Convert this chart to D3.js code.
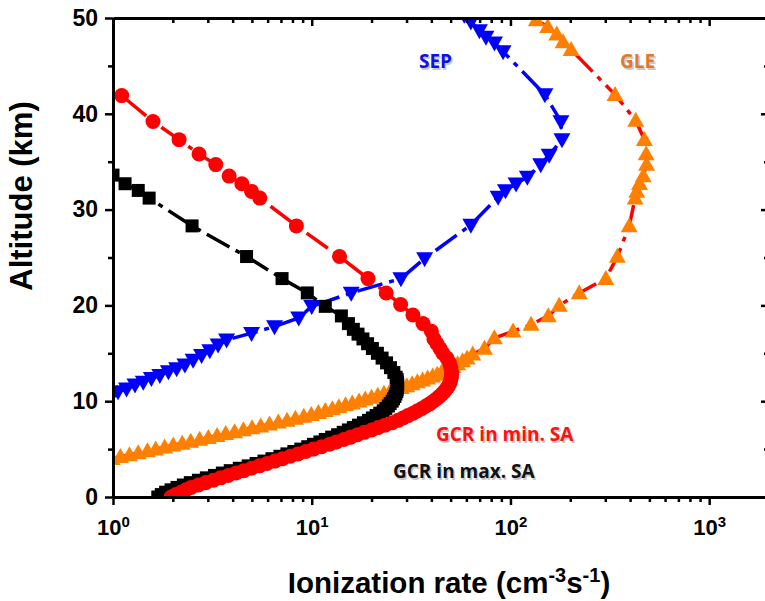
<!DOCTYPE html>
<html><head><meta charset="utf-8">
<script src="https://cdn.jsdelivr.net/npm/d3@7"></script>
<style>body{margin:0;background:#fff} svg{display:block}</style>
</head><body>
<svg id="c" width="765" height="601"></svg>
<script>
// ---------------- data ----------------
const xTickValues = [1, 10, 100, 1000];
const yTickValues = [0, 10, 20, 30, 40, 50];
const yMinorTicks = [5, 15, 25, 35, 45];

// GCR in max. SA (black squares)
const gcrMaxAlt = [0,0.25,0.5,0.75,1,1.25,1.5,1.75,2,2.25,2.5,2.75,3,3.25,3.5,3.75,4,4.25,4.5,4.75,5,5.25,5.5,5.75,6,6.25,6.5,6.75,7,7.25,7.5,7.75,8,8.25,8.5,8.75,9,9.25,9.5,9.75,10,10.25,10.5,10.75,11,11.25,11.5,11.75,12,12.25,12.5,13,13.5,14,14.5,15,15.5,16,16.5,17,17.5,18.1,18.9,19.9,21.3,22.8,25.1,28.3,31.2,32.0,32.7,33.6];
const gcrMaxRate = [1.68,1.75,1.84,1.96,2.1,2.26,2.45,2.69,2.95,3.24,3.55,3.89,4.32,4.79,5.25,5.75,6.31,6.92,7.5,8.13,8.81,9.55,10.2,11.0,11.7,12.6,13.5,14.4,15.3,16.2,17.2,18.2,19.3,20.2,21.1,22.0,22.9,23.6,24.3,24.8,25.4,25.8,26.2,26.5,26.8,26.9,27.0,27.1,27.0,26.9,26.6,25.9,24.9,23.8,22.6,21.4,20.2,19.1,18.1,17.1,16.2,15.3,14.1,11.7,9.5,7.09,4.7,2.5,1.52,1.34,1.15,1.0];

// GCR in min. SA (red circles)
const gcrMinAlt = [0,0.25,0.5,0.75,1,1.25,1.5,1.75,2,2.25,2.5,2.75,3,3.25,3.5,3.75,4,4.25,4.5,4.75,5,5.25,5.5,5.75,6,6.25,6.5,6.75,7,7.25,7.5,7.75,8,8.25,8.5,8.75,9,9.25,9.5,9.75,10,10.25,10.5,10.75,11,11.25,11.5,11.75,12,12.25,12.5,12.75,13,13.5,14,14.5,15,15.5,16,16.5,17.3,18.1,19.0,20.1,21.3,22.8,25.1,28.3,31.2,31.9,32.7,33.5,34.7,35.8,37.3,39.2,41.9,44.6];
const gcrMinRate = [1.96,2.07,2.2,2.33,2.47,2.69,2.93,3.2,3.48,3.8,4.16,4.55,4.98,5.45,5.96,6.52,7.13,7.8,8.53,9.33,10.2,11.2,12.3,13.3,14.5,15.7,17.0,18.4,20.0,21.6,23.4,25.4,27.2,28.8,30.5,32.4,34.1,35.9,37.6,39.4,40.9,42.5,43.9,45.2,46.5,47.5,48.4,49.2,49.8,50.1,50.4,50.5,50.5,50.1,49.3,47.9,45.7,44.2,42.7,41.2,40.0,36.3,32.3,28.0,23.7,19.2,13.8,8.37,5.48,4.98,4.45,3.84,3.29,2.71,2.15,1.59,1.106,0.78];

// SEP (blue down-triangles)
const sepAlt = [10.5,11.0,11.3,11.7,12.0,12.4,12.7,13.1,13.4,13.8,14.3,14.8,15.3,15.9,16.4,17.1,17.8,18.7,19.9,21.3,22.8,24.9,28.4,31.3,32.0,32.7,33.4,34.7,35.7,37.3,39.2,42.0,46.5,47.4,48.0,48.7,49.6,50.3];
const sepRate = [0.98,1.06,1.17,1.29,1.42,1.56,1.72,1.9,2.09,2.3,2.53,2.79,3.07,3.38,3.73,4.98,6.5,8.6,10.0,15.8,28.1,37.0,63.2,86.7,94.4,106.7,121.6,142,156.6,181.6,179.5,149,91.8,83.1,75.3,69.8,63.2,58.5];

// GLE (orange up-triangles)
const gleAlt = [4.0,4.2,4.4,4.6,4.8,5.0,5.2,5.4,5.6,5.8,6.0,6.2,6.4,6.6,6.8,7.0,7.2,7.4,7.6,7.8,8.0,8.2,8.4,8.6,8.8,9.0,9.2,9.4,9.6,9.8,10.0,10.2,10.4,10.6,10.8,11.0,11.2,11.4,11.6,11.8,12.0,12.2,12.4,12.6,12.8,13.0,13.3,13.6,13.9,14.2,14.5,14.9,15.5,16.6,17.3,18.0,18.9,20.0,21.3,22.8,25.1,28.3,31.2,31.9,32.7,33.5,34.7,35.8,37.3,39.3,42.0,46.7,47.5,48.3,49.1,49.8,50.5];
const gleRate = [0.99,1.09,1.21,1.34,1.49,1.64,1.82,2.01,2.23,2.46,2.73,3.02,3.34,3.69,4.09,4.53,5.01,5.54,6.13,6.79,7.51,8.28,9.12,9.95,10.8,11.7,12.7,13.7,14.8,16.0,17.3,18.6,20.0,21.5,23.1,24.7,26.4,28.2,30.1,32.0,34.0,36.1,38.3,40.6,42.8,45.0,48.1,51.3,54.2,57.4,60.5,64.6,74.0,83.0,103,127,155,176,222,302,345,396,424,432,446,466,484,482,472,427,336,202,184,171,154,135,122];

// ---------------- chart ----------------
const svg = d3.select("#c");
const FONT = "'Liberation Sans', Arial, sans-serif";
const pL = 113, pR = 769, pT = 18, pB = 497;
const x = d3.scaleLog().domain([1, 2000]).range([pL, pR]);
const y = d3.scaleLinear().domain([0, 50]).range([pB, pT]);

const xMinor = [];
[1, 10, 100, 1000].forEach(d => { for (let k = 2; k <= 9; k++) if (d * k <= 2000) xMinor.push(d * k); });

svg.append("defs").append("clipPath").attr("id", "clip")
  .append("rect").attr("x", pL).attr("y", pT).attr("width", pR - pL).attr("height", pB - pT);

const plot = svg.append("g").attr("clip-path", "url(#clip)");

const zip = (a, v) => a.map((alt, i) => ({ a: alt, v: v[i] }));
const line = d3.line().x(d => x(d.v)).y(d => y(d.a));

function triPath(w, h, down) {
  const s = down ? -1 : 1;
  return `M0,${-0.58 * h * s}L${w / 2},${0.42 * h * s}L${-w / 2},${0.42 * h * s}Z`;
}
const series = [
  { data: zip(gleAlt, gleRate), line: "#ff0000", fill: "#ff8000", shape: triPath(17, 15, false) },
  { data: zip(sepAlt, sepRate), line: "#0000ff", fill: "#0000ff", shape: triPath(17, 15, true) },
  { data: zip(gcrMaxAlt, gcrMaxRate), line: "#000000", fill: "#000000", shape: d3.symbol(d3.symbolSquare, 169)() },
  { data: zip(gcrMinAlt, gcrMinRate), line: "#ff0000", fill: "#ff0000", shape: d3.symbol(d3.symbolCircle, 177)() }
];

series.forEach(s => {
  plot.append("path").attr("d", line(s.data)).attr("fill", "none")
    .attr("stroke", s.line).attr("stroke-width", 3.5).attr("stroke-dasharray", "26,7,5,7");
  plot.append("g").selectAll("path").data(s.data).join("path")
    .attr("d", s.shape).attr("fill", s.fill)
    .attr("transform", d => `translate(${x(d.v)},${y(d.a)})`);
});

// axes
function styleAxis(g) {
  g.select(".domain").attr("stroke", "#000").attr("stroke-width", 3);
  g.selectAll(".tick line").attr("stroke", "#000").attr("stroke-width", 2.5);
  g.selectAll(".tick text").attr("font-family", FONT).attr("font-weight", "bold").attr("font-size", 23).attr("fill", "#000");
}
// left
svg.append("g").attr("transform", `translate(${pL},0)`)
  .call(d3.axisLeft(y).tickValues(yTickValues).tickSize(8).tickSizeOuter(0).tickPadding(7))
  .call(styleAxis);
svg.append("g").attr("transform", `translate(${pL},0)`)
  .call(d3.axisLeft(y).tickValues(yMinorTicks).tickSize(5).tickFormat(""))
  .call(styleAxis).select(".domain").remove();
// right
svg.append("g").attr("transform", `translate(${pR},0)`)
  .call(d3.axisRight(y).tickValues(yTickValues).tickSize(-8).tickSizeOuter(0).tickFormat(""))
  .call(styleAxis);
svg.append("g").attr("transform", `translate(${pR},0)`)
  .call(d3.axisRight(y).tickValues(yMinorTicks).tickSize(-5).tickFormat(""))
  .call(styleAxis).select(".domain").remove();
// bottom
const bx = svg.append("g").attr("transform", `translate(0,${pB})`)
  .call(d3.axisBottom(x).tickValues(xTickValues).tickSize(8).tickSizeOuter(0).tickPadding(7).tickFormat(() => ""))
  .call(styleAxis);
bx.selectAll(".tick text").attr("font-size", 22).each(function (d) {
  const t = d3.select(this);
  t.attr("dy", "1.05em");
  t.append("tspan").text("10");
  t.append("tspan").attr("dy", "-0.55em").attr("font-size", 15).text(Math.round(Math.log10(d)));
});
svg.append("g").attr("transform", `translate(0,${pB})`)
  .call(d3.axisBottom(x).tickValues(xMinor).tickSize(5).tickFormat(""))
  .call(styleAxis).select(".domain").remove();
// top
svg.append("g").attr("transform", `translate(0,${pT})`)
  .call(d3.axisTop(x).tickValues(xTickValues).tickSize(-8).tickSizeOuter(0).tickFormat(""))
  .call(styleAxis);
svg.append("g").attr("transform", `translate(0,${pT})`)
  .call(d3.axisTop(x).tickValues(xMinor).tickSize(-5).tickFormat(""))
  .call(styleAxis).select(".domain").remove();

// axis titles
const xt = svg.append("text").attr("x", 449).attr("y", 593).attr("text-anchor", "middle")
  .attr("font-family", FONT).attr("font-weight", "bold").attr("font-size", 29.5).attr("fill", "#000");
xt.append("tspan").text("Ionization rate (cm");
xt.append("tspan").attr("dy", -11).attr("font-size", 20).text("-3");
xt.append("tspan").attr("dy", 11).text("s");
xt.append("tspan").attr("dy", -11).attr("font-size", 20).text("-1");
xt.append("tspan").attr("dy", 11).text(")");

svg.append("text").attr("transform", "translate(32,196) rotate(-90)").attr("text-anchor", "middle")
  .attr("font-family", FONT).attr("font-weight", "bold").attr("font-size", 31).attr("fill", "#000")
  .text("Altitude (km)");

// annotations
const LF = "'Open Sans', sans-serif";
function label(txt, lx, ly, color) {
  svg.append("text").attr("x", lx + 1.5).attr("y", ly + 1.5).attr("font-family", LF).attr("font-weight", 700)
    .attr("font-size", 19).attr("fill", "#888").attr("opacity", 0.45).text(txt);
  svg.append("text").attr("x", lx).attr("y", ly).attr("font-family", LF).attr("font-weight", 700)
    .attr("font-size", 19).attr("fill", color).text(txt);
}
label("SEP", 419, 68, "#1010e8");
label("GLE", 620, 68, "#de7a30");
label("GCR in min. SA", 436, 441, "#ff1010");
label("GCR in max. SA", 393, 478, "#111111");
</script>
</body></html>
